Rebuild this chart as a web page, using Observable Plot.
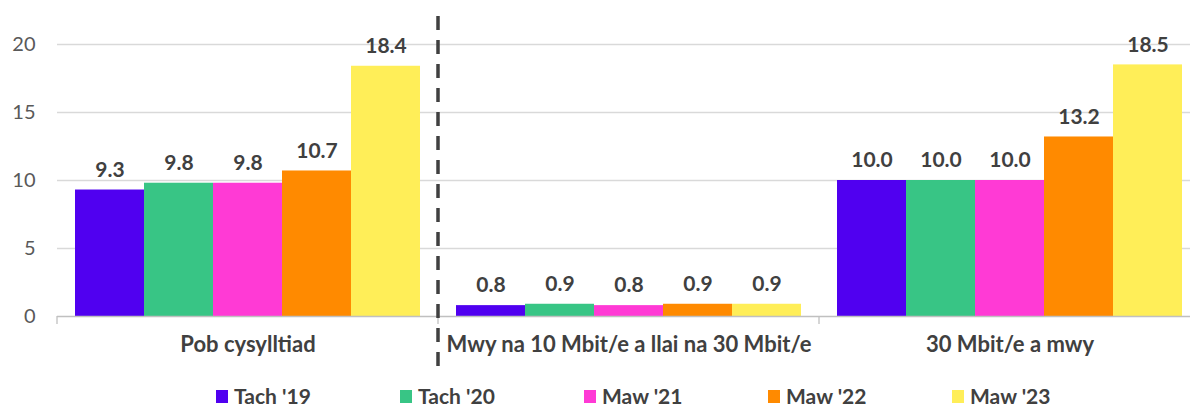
<!DOCTYPE html>
<html>
<head>
<meta charset="utf-8">
<script src="https://cdn.jsdelivr.net/npm/d3@7"></script>
<script src="https://cdn.jsdelivr.net/npm/@observablehq/plot@0.6"></script>
<style>
  html, body { margin: 0; padding: 0; background: #fff; overflow: hidden; }
  body { width: 1190px; height: 406px; font-family: Lato, "Open Sans", sans-serif; }
  #chart { height: 372px; }
  #legend { display: flex; padding-left: 216px; padding-top: 13px; align-items: center; }
  .item { width: 184px; display: flex; align-items: center; font-weight: 700; font-size: 21px; line-height: 22px; color: #404040; white-space: nowrap; }
  .sw { width: 12px; height: 13px; margin-right: 6px; flex: none; }
</style>
</head>
<body>
<div id="chart"></div>
<div id="legend"></div>
<script>
const categories = ["Pob cysylltiad", "Mwy na 10 Mbit/e a llai na 30 Mbit/e", "30 Mbit/e a mwy"];
const series = ["Tach '19", "Tach '20", "Maw '21", "Maw '22", "Maw '23"];
const tach19 = [9.3, 0.8, 10.0];
const tach20 = [9.8, 0.9, 10.0];
const maw21 = [9.8, 0.8, 10.0];
const maw22 = [10.7, 0.9, 13.2];
const maw23 = [18.4, 0.9, 18.5];
const yTicks = [0, 5, 10, 15, 20];
const colors = ["#5000F0", "#38C585", "#FF3AD5", "#FF8A00", "#FFEE58"];

const valuesBySeries = [tach19, tach20, maw21, maw22, maw23];
const data = [];
categories.forEach((c, i) => {
  series.forEach((s, j) => {
    data.push({category: c, series: s, value: valuesBySeries[j][i]});
  });
});

const plot = Plot.plot({
  width: 1190,
  height: 372,
  marginLeft: 57,
  marginRight: -10,
  marginTop: 44,
  marginBottom: 56,
  style: {fontFamily: "Lato, 'Open Sans', sans-serif", background: "#fff", overflow: "visible"},
  fx: {domain: categories, padding: 0, label: null},
  x: {domain: series, paddingInner: 0, paddingOuter: 0.25, axis: null},
  y: {domain: [0, 20], label: null},
  color: {domain: series, range: colors},
  marks: [
    Plot.gridY(yTicks.filter(t => t > 0), {stroke: "#d9d9d9", strokeOpacity: 1, strokeWidth: 1.3}),
    Plot.barY(data, {fx: "category", x: "series", y: "value", fill: "series"}),
    Plot.ruleY([0], {stroke: "#c0c0c0", strokeWidth: 1.3}),
    Plot.text(data, {
      fx: "category", x: "series", y: "value",
      text: d => d.value.toFixed(1),
      dy: -20, lineAnchor: "middle",
      fontSize: 21, fontWeight: 700, fill: "#404040"
    }),
    Plot.axisY({ticks: yTicks, tickSize: 0, tickPadding: 22, fontSize: 20, color: "#595959", label: null}),
    Plot.axisFx({anchor: "bottom", tickSize: 0, tickPadding: 20, fontSize: 22, fontWeight: 700, color: "#404040", label: null})
  ]
});
document.getElementById("chart").appendChild(plot);

// group boundary ticks and dashed separator, positioned through the fx scale
const fxs = plot.scale("fx");
const band = d3.scaleBand().domain(fxs.domain).range(fxs.range).paddingInner(0).paddingOuter(0);
const ys = plot.scale("y");
const yScale = d3.scaleLinear().domain(ys.domain).range(ys.range);
const svg = d3.select(plot);
const y0 = yScale(0);
svg.append("g").selectAll("line").data(categories).join("line")
  .attr("x1", d => band(d)).attr("x2", d => band(d))
  .attr("y1", y0).attr("y2", y0 + 8)
  .attr("stroke", "#c0c0c0").attr("stroke-width", 1.3);
const sepX = band(categories[1]);
svg.append("line")
  .attr("x1", sepX).attr("x2", sepX)
  .attr("y1", 16).attr("y2", 366)
  .attr("stroke", "#404040").attr("stroke-width", 3.5)
  .attr("stroke-dasharray", "14,10");

// legend
const legend = d3.select("#legend");
series.forEach((s, i) => {
  const it = legend.append("div").attr("class", "item");
  it.append("div").attr("class", "sw").style("background", colors[i]);
  it.append("span").text(s);
});
</script>
</body>
</html>
